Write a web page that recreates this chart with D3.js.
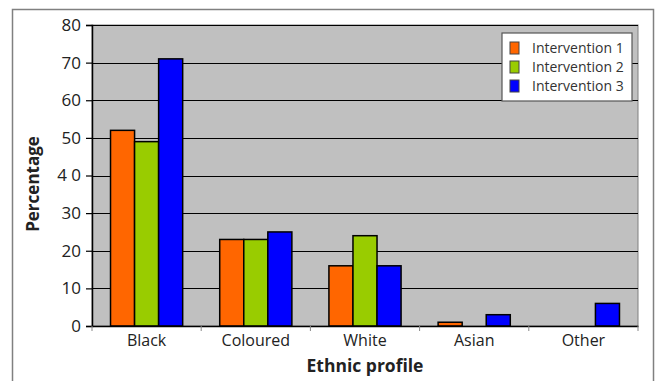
<!DOCTYPE html>
<html>
<head>
<meta charset="utf-8">
<script src="https://cdn.jsdelivr.net/npm/d3@7/dist/d3.min.js"></script>
<style>
  html, body { margin: 0; padding: 0; background: #fff; }
  svg { display: block; font-family: "Open Sans", "Noto Sans", sans-serif; }
</style>
</head>
<body>
<svg id="chart" width="660" height="381"></svg>
<script>
// Ethnic profile of participants per intervention (%)
const categories = ["Black", "Coloured", "White", "Asian", "Other"];
const seriesNames = ["Intervention 1", "Intervention 2", "Intervention 3"];
const intervention1 = [52, 23, 16, 1, 0];
const intervention2 = [49, 23, 24, 0, 0];
const intervention3 = [71, 25, 16, 3, 6];
const yTicks = [0, 10, 20, 30, 40, 50, 60, 70, 80];
const yTickLabels = ["0", "10", "20", "30", "4 0", "50", "60", "70", "80"];
const colors = ["#FF6600", "#99CC00", "#0000FF"];

const series = [intervention1, intervention2, intervention3];
const FONT = '"Open Sans", "Noto Sans", sans-serif';

const svg = d3.select("#chart");
const plot = { left: 92, right: 638, top: 25, bottom: 326 };

// outer frame
svg.append("rect")
  .attr("x", 12.5).attr("y", 9.5)
  .attr("width", 641).attr("height", 400)
  .attr("fill", "none").attr("stroke", "#808080").attr("stroke-width", 1.5);

const x0 = d3.scaleBand().domain(categories).range([plot.left, plot.right]).paddingInner(0).paddingOuter(0);
const x1 = d3.scaleBand().domain(seriesNames).range([0, x0.bandwidth()]).paddingInner(0).paddingOuter(0.77);
const y = d3.scaleLinear().domain([0, 80]).range([plot.bottom, plot.top]);

// plot background
svg.append("rect")
  .attr("x", plot.left).attr("y", plot.top)
  .attr("width", plot.right - plot.left).attr("height", plot.bottom - plot.top)
  .attr("fill", "#C0C0C0").attr("stroke", "#808080").attr("stroke-width", 1);

// gridlines
svg.append("g").selectAll("line").data(yTicks.filter(d => d > 0)).join("line")
  .attr("x1", plot.left).attr("x2", plot.right)
  .attr("y1", d => Math.round(y(d)) + 0.5).attr("y2", d => Math.round(y(d)) + 0.5)
  .attr("stroke", "#000").attr("stroke-width", 1);

// bars
const groups = svg.append("g").selectAll("g").data(categories).join("g")
  .attr("transform", c => `translate(${x0(c)},0)`);
groups.selectAll("rect")
  .data((c, i) => series.map((s, j) => ({ name: seriesNames[j], value: s[i], color: colors[j] })).filter(d => d.value > 0))
  .join("rect")
  .attr("x", d => x1(d.name))
  .attr("y", d => y(d.value))
  .attr("width", x1.bandwidth())
  .attr("height", d => y(0) - y(d.value))
  .attr("fill", d => d.color)
  .attr("stroke", "#000").attr("stroke-width", 1.5);

// y axis
const yAxis = d3.axisLeft(y).tickValues(yTicks)
  .tickFormat((d, i) => yTickLabels[i]).tickSize(6).tickPadding(5);
const gy = svg.append("g").attr("transform", `translate(${plot.left},0)`).call(yAxis);
gy.select(".domain").attr("stroke", "#000").attr("stroke-width", 1.5);
gy.selectAll(".tick line").attr("stroke", "#000").attr("stroke-width", 1.2);
gy.selectAll(".tick text").attr("font-size", 17).attr("fill", "#222").attr("font-family", FONT);

// x axis
const xAxis = d3.axisBottom(x0).tickSize(0).tickPadding(9);
const gx = svg.append("g").attr("transform", `translate(0,${plot.bottom})`).call(xAxis);
gx.select(".domain").attr("stroke", "#000").attr("stroke-width", 1.5);
gx.selectAll(".tick text").attr("font-size", 16).attr("fill", "#222").attr("font-family", FONT);
// category boundary ticks
const bounds = categories.map(c => x0(c)).concat([plot.right]);
svg.append("g").selectAll("line").data(bounds).join("line")
  .attr("x1", d => d).attr("x2", d => d)
  .attr("y1", plot.bottom).attr("y2", plot.bottom + 5)
  .attr("stroke", "#888").attr("stroke-width", 1);

// axis titles
svg.append("text")
  .attr("x", (plot.left + plot.right) / 2).attr("y", 372)
  .attr("text-anchor", "middle").attr("font-size", 17.5).attr("font-weight", "bold").attr("fill", "#222")
  .attr("font-family", FONT)
  .text("Ethnic profile");
svg.append("text")
  .attr("transform", "translate(39,184) rotate(-90)")
  .attr("text-anchor", "middle").attr("font-size", 17).attr("font-weight", "bold").attr("fill", "#222")
  .attr("font-family", FONT)
  .text("Percentage");

// legend
const legend = svg.append("g");
legend.append("rect")
  .attr("x", 502).attr("y", 33).attr("width", 130).attr("height", 68)
  .attr("fill", "#fff").attr("stroke", "#555").attr("stroke-width", 1.2);
const items = legend.selectAll("g").data(seriesNames).join("g")
  .attr("transform", (d, i) => `translate(510,${48 + i * 19})`);
items.append("rect")
  .attr("x", 0).attr("y", -6).attr("width", 9).attr("height", 12)
  .attr("fill", (d, i) => colors[i]).attr("stroke", "#444").attr("stroke-width", 1);
items.append("text")
  .attr("x", 22).attr("y", 0).attr("dy", "0.35em")
  .attr("font-size", 14).attr("fill", "#333").attr("font-family", FONT)
  .text(d => d);
</script>
</body>
</html>
